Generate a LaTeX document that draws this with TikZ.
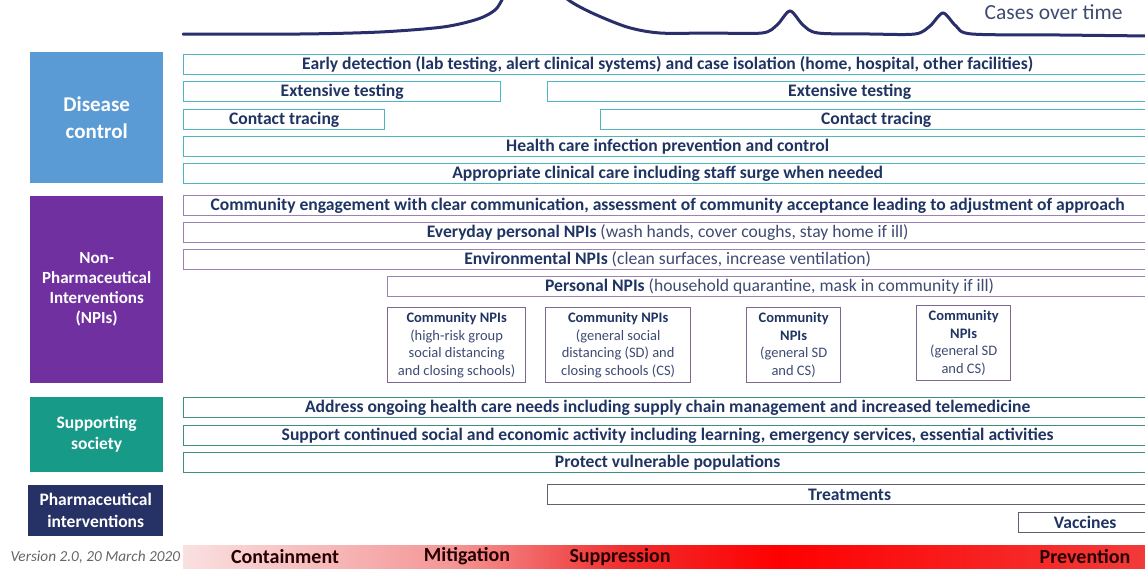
\documentclass[tikz,border=0pt]{standalone}
\usepackage{fontspec}
\setmainfont{Carlito}
\usetikzlibrary{positioning}

\definecolor{inktxt}{HTML}{1F3462}
\definecolor{softtxt}{HTML}{3E4A72}
\definecolor{dcfill}{HTML}{5B9BD5}
\definecolor{npifill}{HTML}{7030A0}
\definecolor{socfill}{HTML}{179A88}
\definecolor{phfill}{HTML}{263266}
\definecolor{dcline}{HTML}{4DB6C0}
\definecolor{npiline}{HTML}{9C82B4}
\definecolor{socline}{HTML}{3F8E80}
\definecolor{phline}{HTML}{5E6070}
\definecolor{curveline}{HTML}{2A2E6A}
\definecolor{barpink}{RGB}{250,224,224}
\definecolor{barrose}{RGB}{244,150,150}
\definecolor{barred}{RGB}{240,45,45}
\definecolor{barend}{RGB}{242,58,58}

% phase bar: pale on the left, full red from the middle on
\pgfdeclarehorizontalshading{phasebar}{100bp}{color(0bp)=(barpink); color(25bp)=(barpink);
  color(39bp)=(barrose); color(48bp)=(barred); color(56bp)=(red); color(75bp)=(barend);
  color(100bp)=(barend)}

\begin{document}
\begin{tikzpicture}[x=1pt, y=-1pt,
  every node/.style={text=inktxt},
  catbox/.style={rectangle, inner sep=0pt, align=center, text=white,
    anchor=north west, font=\bfseries\fontsize{17.5}{21}\selectfont},
  row/.style={rectangle, draw, line width=1.3pt, inner sep=0pt, anchor=north west,
    minimum height=20pt, font=\bfseries\fontsize{17.6}{19}\selectfont},
  dcrow/.style={row, draw=dcline},
  npirow/.style={row, draw=npiline},
  socrow/.style={row, draw=socline},
  phrow/.style={row, draw=phline},
  commbox/.style={rectangle, draw=npiline!80!black, line width=1.3pt, inner sep=0pt,
    anchor=north west, minimum height=75pt, align=center,
    font=\bfseries\fontsize{14.5}{17.5}\selectfont},
  phase/.style={font=\bfseries\fontsize{20}{22}\selectfont, text=black!85!red}]

\useasboundingbox (0,0) rectangle (1145,568);

% cases over time
\begin{scope}
  \clip (0,0) rectangle (1145,568);
  \draw[curveline, line width=3pt, line cap=round] plot[smooth, tension=0.5] coordinates {
    (183,34) (300,34) (380,32) (443,27) (478,19) (495,10) (503,-2) (515,-25) (535,-40)
    (555,-20) (566,-2) (590,12) (627,27) (660,33) (710,33) (762,33) (777,25) (790,11) (803,25)
    (818,33) (870,34) (915,34) (930,26) (943,13) (956,26) (972,34) (1060,35) (1150,36)};
\end{scope}
\node[font=\fontsize{21.5}{24}\selectfont, text=softtxt, anchor=east] (cases) at (1126,12) {Cases over time};

% categories
\node[catbox, fill=dcfill, minimum width=133pt, minimum height=131pt,
  font=\bfseries\fontsize{21}{27}\selectfont] (disease) at (30,52) {Disease\\control};
\node[catbox, fill=npifill, minimum width=133pt, minimum height=187pt,
  font=\bfseries\fontsize{17}{20}\selectfont] (npis) at (30,196)
  {Non-\\Pharmaceutical\\Interventions\\(NPIs)};
\node[catbox, fill=socfill, minimum width=133pt, minimum height=75pt] (society) at (30,397)
  {Supporting\\society};
\node[catbox, fill=phfill, minimum width=135pt, minimum height=51pt,
  font=\bfseries\fontsize{17.5}{22}\selectfont] (pharma) at (28,485) {Pharmaceutical\\interventions};

% disease control
\node[dcrow, minimum width=968pt] (detect) at (183,54)
  {Early detection (lab testing, alert clinical systems) and case isolation (home, hospital, other facilities)};
\node[dcrow, minimum width=317pt] (testA) at (183,81) {Extensive testing};
\node[dcrow, minimum width=604pt] (testB) at (547,81) {Extensive testing};
\node[dcrow, minimum width=201pt] (traceA) at (183,109) {Contact tracing};
\node[dcrow, minimum width=551pt] (traceB) at (600,109) {Contact tracing};
\node[dcrow, minimum width=968pt] (ipc) at (183,136) {Health care infection prevention and control};
\node[dcrow, minimum width=968pt] (care) at (183,163) {Appropriate clinical care including staff surge when needed};

% non-pharmaceutical interventions
\node[npirow, minimum width=968pt] (engage) at (183,195)
  {Community engagement with clear communication, assessment of community acceptance leading to adjustment of approach};
\node[npirow, minimum width=968pt] (everyday) at (183,222)
  {Everyday personal NPIs {\mdseries\color{softtxt}(wash hands, cover coughs, stay home if ill)}};
\node[npirow, minimum width=968pt] (environ) at (183,249)
  {Environmental NPIs {\mdseries\color{softtxt}(clean surfaces, increase ventilation)}};
\node[npirow, minimum width=764pt] (personal) at (387,276)
  {Personal NPIs {\mdseries\color{softtxt}(household quarantine, mask in community if ill)}};
\node[commbox, minimum width=138pt] (commA) at (387,307)
  {Community NPIs\\{\mdseries\color{softtxt}(high-risk group}\\{\mdseries\color{softtxt}social distancing}\\{\mdseries\color{softtxt}and closing schools)}};
\node[commbox, minimum width=145pt] (commB) at (545,307)
  {Community NPIs\\{\mdseries\color{softtxt}(general social}\\{\mdseries\color{softtxt}distancing (SD) and}\\{\mdseries\color{softtxt}closing schools (CS)}};
\node[commbox, minimum width=94pt] (commC) at (746,307)
  {Community\\NPIs\\{\mdseries\color{softtxt}(general SD}\\{\mdseries\color{softtxt}and CS)}};
\node[commbox, minimum width=94pt] (commD) at (916,305)
  {Community\\NPIs\\{\mdseries\color{softtxt}(general SD}\\{\mdseries\color{softtxt}and CS)}};

% supporting society
\node[socrow, minimum width=968pt] (needs) at (183,397)
  {Address ongoing health care needs including supply chain management and increased telemedicine};
\node[socrow, minimum width=968pt] (activity) at (183,425)
  {Support continued social and economic activity including learning, emergency services, essential activities};
\node[socrow, minimum width=968pt] (vulnerable) at (183,452) {Protect vulnerable populations};

% pharmaceutical
\node[phrow, minimum width=604pt] (treat) at (547,484) {Treatments};
\node[phrow, minimum width=133pt] (vaccine) at (1018,512) {Vaccines};

% phases
\shade[shading=phasebar] (183,545) rectangle (1145,568);
\node[phase] (contain) at (285,557) {Containment};
\node[phase] (mitig) at (467,556) {Mitigation};
\node[phase] (suppress) at (620,557) {Suppression};
\node[phase] (prevent) at (1085,557) {Prevention};
\node[font=\itshape\fontsize{15.3}{17}\selectfont, text=black!60, anchor=west] (version) at (7,557)
  {Version 2.0, 20 March 2020};
\end{tikzpicture}
\end{document}
